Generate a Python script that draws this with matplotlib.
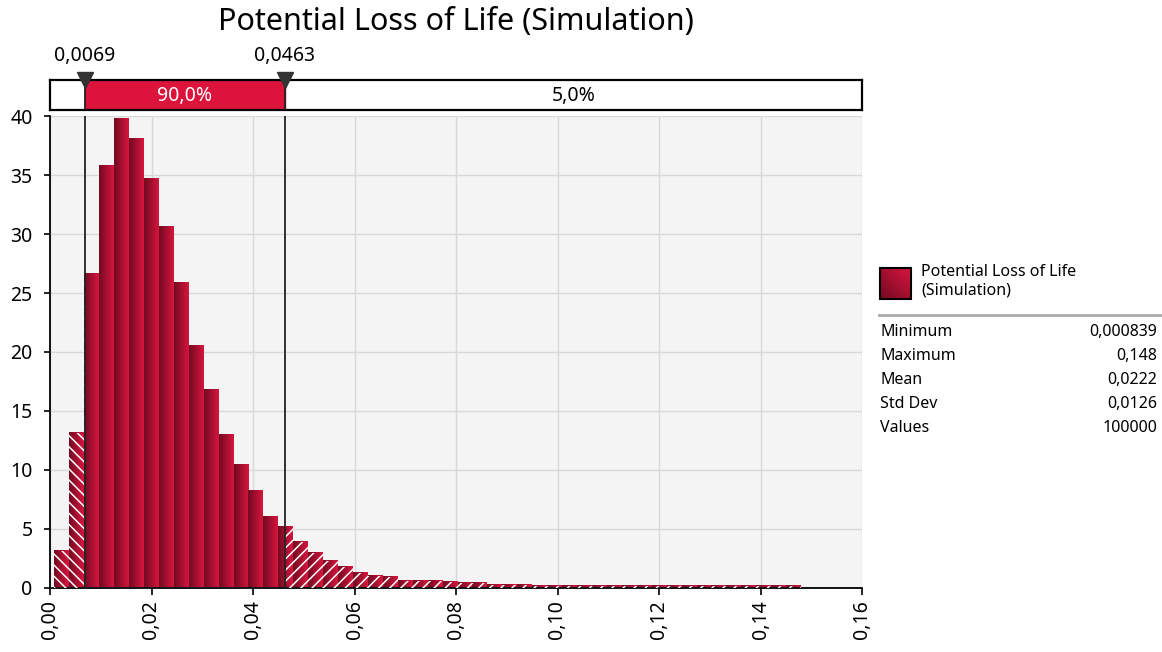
# Potential Loss of Life - histogram of the simulation with 90% band
import numpy as np
import matplotlib.pyplot as plt
from matplotlib.colors import LinearSegmentedColormap

plt.rcParams['font.family'] = ['Noto Sans', 'DejaVu Sans']

# ---------- data ----------
title = "Potential Loss of Life (Simulation)"
series_name = "Potential Loss of Life\n(Simulation)"

x_min = 0.000839
x_max = 0.148
# density per bin, 50 equal bins between min and max
density = [3.06, 13.13, 26.6, 35.83, 39.77, 38.07, 34.67, 30.58, 25.82, 20.51,
           16.74, 12.99, 10.41, 8.23, 5.96, 5.11, 3.89, 2.95, 2.24, 1.70,
           1.25, 1.0, 0.85, 0.54, 0.54, 0.51, 0.5, 0.38, 0.36, 0.18,
           0.17, 0.17, 0.16, 0.16, 0.16, 0.16, 0.15, 0.15, 0.15, 0.15,
           0.15, 0.15, 0.15, 0.14, 0.14, 0.14, 0.14, 0.14, 0.14, 0.14]

lower_cut = 0.0069
upper_cut = 0.0463
mid_label = "90,0%"
right_label = "5,0%"

stat_names = ["Minimum", "Maximum", "Mean", "Std Dev", "Values"]
stat_values = ["0,000839", "0,148", "0,0222", "0,0126", "100000"]

x_ticks = [0.00, 0.02, 0.04, 0.06, 0.08, 0.10, 0.12, 0.14, 0.16]
x_tick_labels = ["0,00", "0,02", "0,04", "0,06", "0,08", "0,10", "0,12", "0,14", "0,16"]
y_ticks = [0, 5, 10, 15, 20, 25, 30, 35, 40]

# ---------- style ----------
W, H = 1162, 652
bar_cmap = LinearSegmentedColormap.from_list("bar", ["#720a21", "#a50f30", "#d6163e"])
band_red = "#dc143c"
plt.rcParams['hatch.linewidth'] = 1.1

fig = plt.figure(figsize=(W / 100, H / 100), dpi=100)

# main axes (pixel box 50..862 x 116.5..587.5)
ax = fig.add_axes([50 / W, 1 - 587.5 / H, 812 / W, 471 / H])
ax_top = fig.add_axes([50 / W, 1 - 109.5 / H, 812 / W, 29.5 / H])

ax.set_facecolor("#f4f4f4")
ax.grid(True, color="#d9d9d9", lw=1.0)
ax.set_axisbelow(True)

edges = np.linspace(x_min, x_max, len(density) + 1)
grad = np.linspace(0, 1, 64).reshape(1, -1)

for i, h in enumerate(density):
    l, r = edges[i], edges[i + 1]
    ax.imshow(grad, extent=[l, r, 0, h], aspect='auto', cmap=bar_cmap,
              interpolation='bilinear', zorder=2)
    # hatched parts outside the 90% band
    if l < lower_cut:
        pr = min(r, lower_cut)
        ax.bar(l, h, width=pr - l, align='edge', facecolor='none',
               edgecolor='white', lw=0, hatch='\\\\\\', zorder=3)
    if r > upper_cut:
        pl = max(l, upper_cut)
        ax.bar(pl, h, width=r - pl, align='edge', facecolor='none',
               edgecolor='white', lw=0, hatch='///', zorder=3)

for c in (lower_cut, upper_cut):
    ax.axvline(c, color="#222222", lw=1.3, zorder=5)

ax.set_xlim(0, 0.16)
ax.set_ylim(0, 40)
ax.set_aspect('auto')
ax.set_xticks(x_ticks)
ax.set_xticklabels(x_tick_labels, rotation=90, fontsize=14)
ax.set_yticks(y_ticks)
ax.set_yticklabels([str(v) for v in y_ticks], fontsize=14)
ax.tick_params(axis='y', length=4.5, width=1.2, pad=8)
ax.tick_params(axis='x', length=5, width=1.2, pad=4)
for s in ("top", "right"):
    ax.spines[s].set_visible(False)
for s in ("left", "bottom"):
    ax.spines[s].set_linewidth(1.3)

# ---------- top band bar ----------
ax_top.set_xlim(0, 0.16)
ax_top.set_ylim(0, 1)
ax_top.axvspan(lower_cut, upper_cut, color=band_red, zorder=1)
for c in (lower_cut, upper_cut):
    ax_top.axvline(c, color="#222222", lw=1.3, zorder=3)
ax_top.set_xticks([])
ax_top.set_yticks([])
for s in ax_top.spines.values():
    s.set_linewidth(1.6)
ax_top.text((lower_cut + upper_cut) / 2, 0.45, mid_label, color="white",
            ha='center', va='center', fontsize=14)
ax_top.text((upper_cut + 0.16) / 2, 0.45, right_label, color="black",
            ha='center', va='center', fontsize=14)
ax_top.plot([lower_cut, upper_cut], [1, 1], ls='none', marker='v', ms=12,
            color="#333333", clip_on=False, zorder=5)
for c in (lower_cut, upper_cut):
    ax_top.annotate(f"{c:.4f}".replace(".", ","), (c, 1), xytext=(0, 10),
                    textcoords='offset points', ha='center', va='bottom',
                    fontsize=14, annotation_clip=False)

fig.text(456 / W, 1 - 22 / H, title, ha='center', va='center', fontsize=22)

# ---------- legend / stats panel (pixel coordinates) ----------
lg = fig.add_axes([0, 0, 1, 1], zorder=-1)
lg.set_xlim(0, W)
lg.set_ylim(H, 0)
lg.axis('off')

sw = np.add.outer(np.linspace(1, 0.3, 32), np.linspace(0, 0.7, 32))
lg.imshow(sw, extent=[880, 911, 299, 268], cmap=bar_cmap, vmin=0.3, vmax=1.7,
          aspect='auto', interpolation='bilinear')
lg.add_patch(plt.Rectangle((880, 268), 31, 31, fill=False, ec="black", lw=1.5))
lg.text(921, 281, series_name, ha='left', va='center', fontsize=11.5,
        linespacing=1.25)
lg.plot([879, 1161], [315, 315], color="#aaaaaa", lw=2)
for i, (n, v) in enumerate(zip(stat_names, stat_values)):
    y = 331.5 + 24 * i
    lg.text(880, y, n, ha='left', va='center', fontsize=11.5)
    lg.text(1157, y, v, ha='right', va='center', fontsize=11.5)

fig.savefig("out.png", dpi=100)
